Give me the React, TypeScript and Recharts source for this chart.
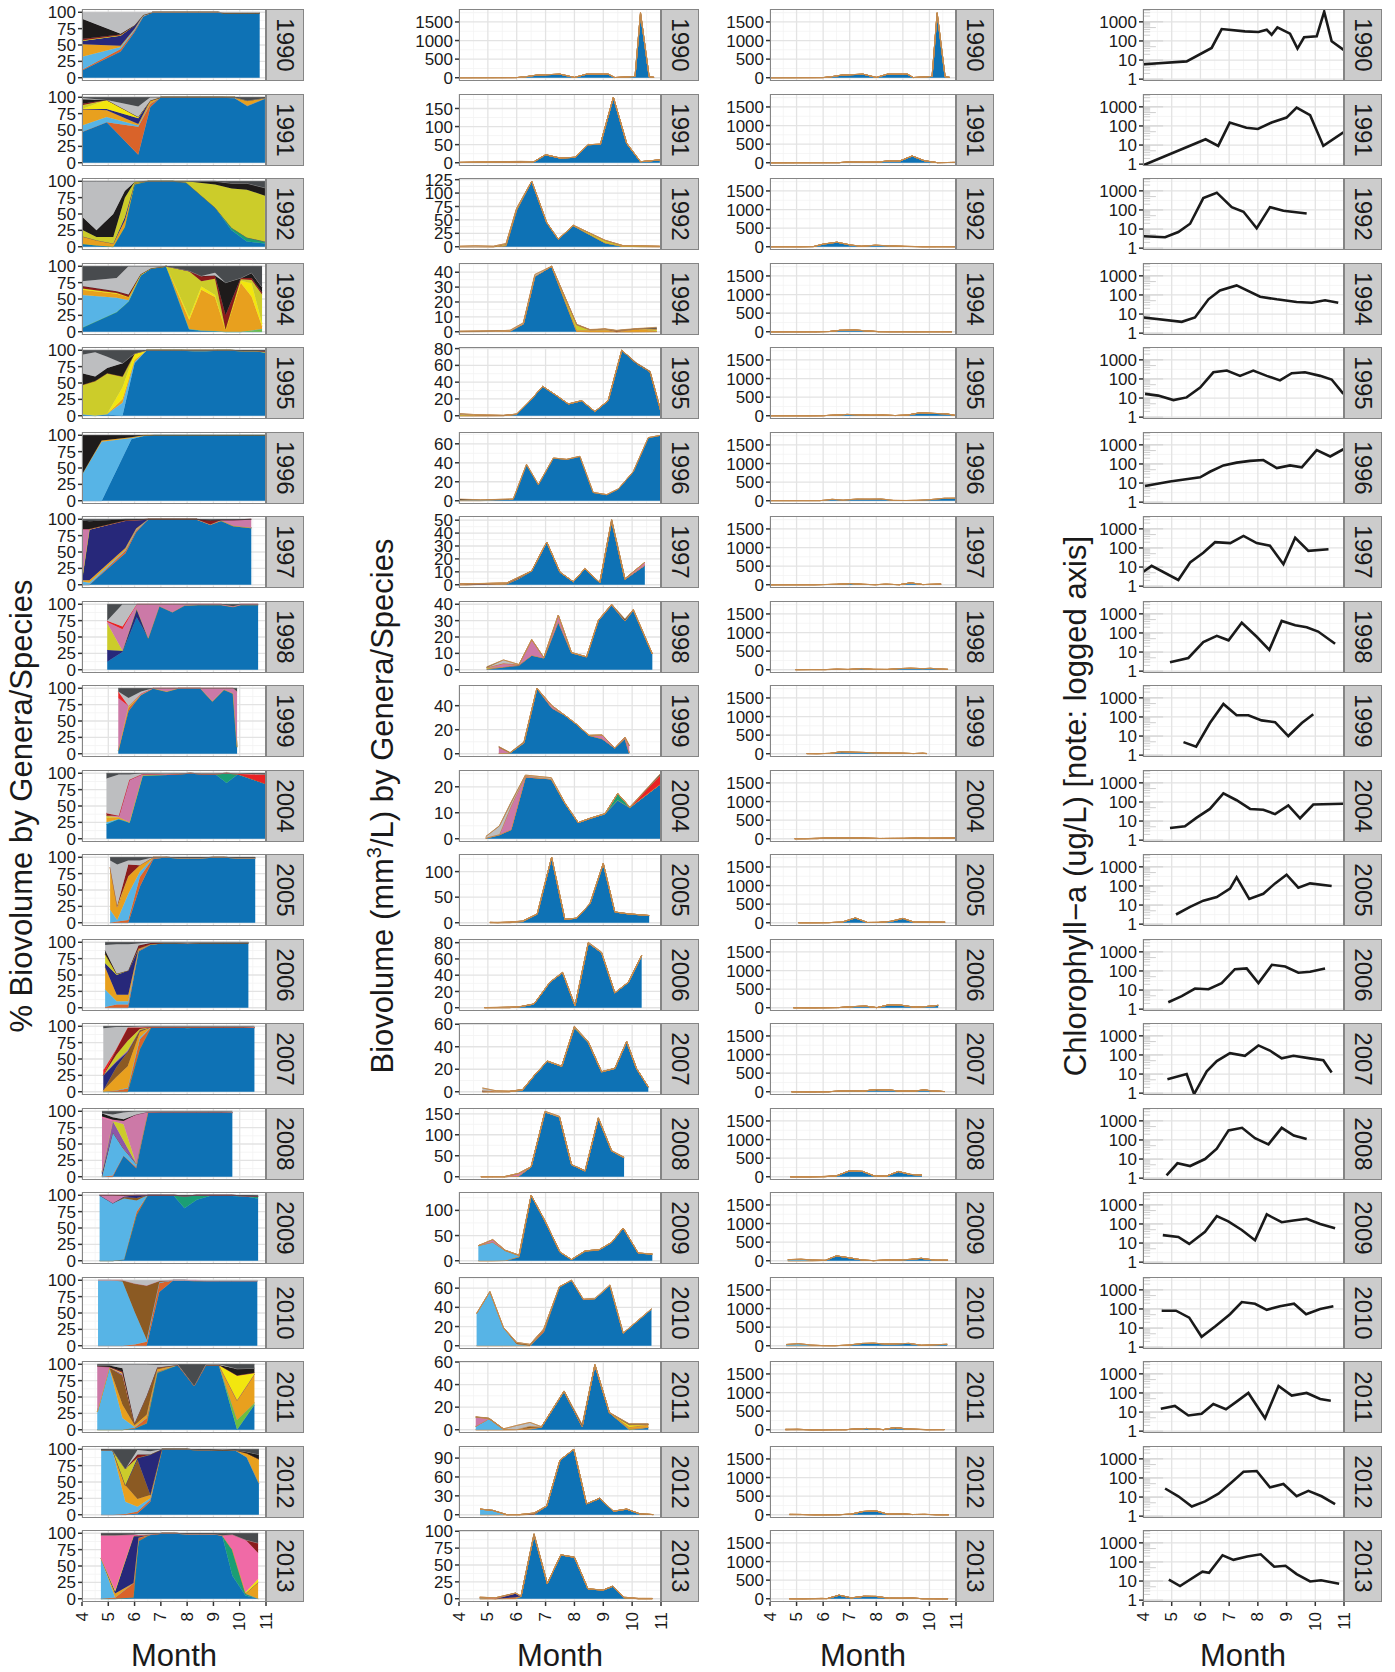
import React from 'react';
import { AreaChart, Area, LineChart, Line, XAxis, YAxis, CartesianGrid, ReferenceLine } from 'recharts';

const FONT = '"Liberation Sans", Arial, Helvetica, sans-serif';

// genera/species in stacking order (bottom to top)
const speciesKeys = ['A', 'O', 'G2', 'C', 'B', 'D', 'N', 'E', 'Q', 'J', 'K', 'L', 'P', 'F', 'R', 'G', 'H', 'I'];
const speciesColors = ['#0e72b5', '#1b9e74', '#6cbf3f', '#d9632a', '#57b4e6', '#e8a01e', '#8b5a23', '#27287a', '#8e56a8', '#f2e60f', '#cccc2a', '#cc79a7', '#f06aa6', '#8b1c1c', '#ea2224', '#1e1b1b', '#bdbec0', '#484b4e'];

const years = ['1990', '1991', '1992', '1994', '1995', '1996', '1997', '1998', '1999', '2004', '2005', '2006', '2007', '2008', '2009', '2010', '2011', '2012', '2013'];

const bvTicks = [
  [0, 500, 1000, 1500], [0, 50, 100, 150], [0, 25, 50, 75, 100, 125], [0, 10, 20, 30, 40], [0, 20, 40, 60, 80],
  [0, 20, 40, 60], [0, 10, 20, 30, 40, 50], [0, 10, 20, 30, 40], [0, 20, 40], [0, 10, 20], [0, 50, 100],
  [0, 20, 40, 60, 80], [0, 20, 40, 60], [0, 50, 100, 150], [0, 50, 100], [0, 20, 40, 60], [0, 20, 40, 60],
  [0, 30, 60, 90], [0, 25, 50, 75, 100],
];

// ---- 1990
const m1990 = [4.0, 5.47, 6.0, 6.33, 6.69, 7.5, 8.0, 8.42, 9.17, 9.4, 10.1, 10.29, 10.59, 10.76];
const bv1990 = [3, 5, 5, 30, 70, 96, 9, 96, 96, 5, 35, 1760, 26, 10];
const pct1990 = {
  A: [11, 40, 70, 93, 100, 100, 100, 100, 100, 99, 99, 99, 99, 99],
  C: [1, 4, 2, 1, 0, 0, 0, 0, 0, 0, 0, 0, 0, 0],
  B: [20, 3, 2, 1, 0, 0, 0, 0, 0, 0, 0, 0, 0, 0],
  D: [19, 2, 1, 1, 0, 0, 0, 0, 0, 0, 0, 0, 0, 0],
  E: [5, 15, 5, 0, 0, 0, 0, 0, 0, 0, 0, 0, 0, 0],
  J: [1, 1, 0, 0, 0, 0, 0, 0, 0, 0, 0, 0, 0, 0],
  F: [2, 1, 0, 0, 0, 0, 0, 0, 0, 0, 0, 0, 0, 0],
  G: [31, 1, 0, 0, 0, 0, 0, 0, 0, 0, 0, 0, 0, 0],
  H: [10, 33, 20, 4, 0, 0, 0, 0, 0, 1, 1, 1, 1, 1],
};
const chlM1990 = [4.03, 5.52, 6.39, 6.74, 7.55, 8.02, 8.31, 8.48, 8.68, 9.12, 9.38, 9.61, 10.05, 10.31, 10.57, 11.0];
const chl1990 = [6, 8.5, 43, 420, 316, 293, 385, 212, 510, 240, 40, 155, 174, 3400, 96, 33];

// ---- 1991
const m1991 = [4.0, 4.94, 6.14, 6.6, 7.0, 7.5, 8.02, 8.48, 8.9, 9.35, 9.81, 10.29, 10.96];
const bv1991 = [1, 2, 4, 3, 22, 13, 15, 50, 51, 181, 54, 3, 8];
const pct1991 = {
  A: [47, 62, 12, 85, 100, 100, 100, 100, 100, 100, 99, 87, 98],
  C: [0, 0, 43, 5, 0, 0, 0, 0, 0, 0, 0, 0, 0],
  B: [10, 8, 2, 0, 0, 0, 0, 0, 0, 0, 0, 0, 0],
  D: [25, 10, 2, 5, 0, 0, 0, 0, 0, 0, 1, 8, 1],
  E: [0, 2, 9, 0, 0, 0, 0, 0, 0, 0, 0, 0, 0],
  J: [0, 14, 2, 0, 0, 0, 0, 0, 0, 0, 0, 0, 0],
  K: [6, 0, 0, 0, 0, 0, 0, 0, 0, 0, 0, 0, 0],
  F: [2, 0, 0, 0, 0, 0, 0, 0, 0, 0, 0, 0, 0],
  G: [7, 0, 0, 0, 0, 0, 0, 0, 0, 0, 0, 0, 0],
  H: [2, 0, 16, 5, 0, 0, 0, 0, 0, 0, 0, 0, 0],
  I: [1, 4, 14, 0, 0, 0, 0, 0, 0, 0, 0, 5, 1],
};
const chlM1991 = [4.03, 6.18, 6.62, 7.02, 7.6, 8.0, 8.48, 9.0, 9.35, 9.82, 10.28, 10.98];
const chl1991 = [0.9, 20, 9, 150, 80, 69, 150, 275, 920, 366, 9, 46];

// ---- 1992
const m1992 = [4.0, 4.55, 5.19, 5.63, 6.0, 6.52, 7.04, 7.44, 7.96, 9.06, 9.69, 10.27, 10.96];
const bv1992 = [1, 2, 1, 6, 72, 122, 45, 14, 40, 12, 2, 2, 1];
const pct1992 = {
  A: [4, 2, 0, 30, 95, 100, 100, 100, 98, 60, 25, 8, 5],
  O: [0, 0, 0, 0, 0, 0, 0, 0, 0, 0, 4, 6, 3],
  D: [12, 8, 5, 10, 2, 0, 0, 0, 0, 0, 0, 0, 0],
  E: [0, 0, 0, 5, 0, 0, 0, 0, 0, 0, 0, 0, 0],
  K: [10, 5, 10, 30, 2, 0, 0, 0, 2, 35, 60, 73, 70],
  G: [20, 10, 35, 10, 0, 0, 0, 0, 0, 5, 8, 10, 12],
  H: [54, 75, 50, 15, 1, 0, 0, 0, 0, 0, 0, 0, 0],
  I: [0, 0, 0, 0, 0, 0, 0, 0, 0, 0, 3, 3, 10],
};
const chlM1992 = [4.03, 4.77, 5.23, 5.64, 6.1, 6.57, 7.09, 7.5, 7.96, 8.42, 8.89, 9.7];
const chl1992 = [4.2, 3.7, 7, 19, 420, 800, 140, 80, 11, 140, 90, 65];

// ---- 1994
const m1994 = [4.0, 5.32, 5.77, 6.23, 6.63, 7.21, 8.08, 8.54, 9.06, 9.46, 10.04, 10.45, 10.85];
const bv1994 = [0.3, 0.6, 1, 6, 38.5, 44, 5, 1.5, 2, 1, 2, 2.5, 3];
const pct1994 = {
  A: [6, 30, 46, 86, 97, 100, 4, 2, 1, 0, 0, 0, 0],
  G2: [0, 0, 0, 0, 0, 0, 0, 0, 0, 0, 0, 2, 4],
  B: [50, 22, 2, 0, 0, 0, 0, 0, 0, 0, 0, 0, 0],
  D: [8, 6, 5, 1, 0, 0, 14, 62, 52, 3, 75, 52, 4],
  J: [2, 1, 0, 0, 0, 0, 4, 5, 3, 0, 3, 20, 4],
  K: [0, 0, 0, 0, 0, 0, 70, 8, 25, 0, 2, 5, 45],
  F: [4, 3, 4, 1, 0, 0, 1, 8, 5, 22, 2, 3, 3],
  G: [0, 0, 0, 0, 0, 0, 0, 0, 0, 50, 0, 8, 8],
  H: [7, 20, 43, 12, 3, 0, 0, 0, 4, 0, 0, 0, 0],
  I: [23, 18, 0, 0, 0, 0, 7, 15, 10, 25, 18, 10, 32],
};
const chlM1994 = [4.03, 5.35, 5.81, 6.28, 6.68, 7.26, 8.08, 8.66, 9.35, 9.88, 10.34, 10.8];
const chl1994 = [6.6, 3.9, 6.6, 59, 170, 316, 81, 59, 43, 39, 53, 39];

// ---- 1995
const m1995 = [4.0, 4.5, 4.96, 5.54, 6.0, 6.46, 6.9, 7.38, 7.79, 8.25, 8.71, 9.17, 9.64, 10.15, 10.62, 10.99];
const bv1995 = [2.6, 1.5, 1, 0.5, 2, 17.7, 35, 24, 14, 18, 5, 18, 78, 63, 53, 6];
const pct1995 = {
  A: [1, 0, 2, 0, 80, 100, 100, 100, 100, 99, 99, 100, 100, 99, 99, 97],
  B: [2, 1, 1, 20, 2, 0, 0, 0, 0, 0, 0, 0, 0, 0, 0, 0],
  D: [0, 0, 0, 5, 3, 0, 0, 0, 0, 0, 0, 0, 0, 0, 0, 0],
  J: [0, 0, 0, 18, 10, 0, 0, 0, 0, 1, 1, 0, 0, 0, 0, 0],
  K: [44, 52, 62, 17, 0, 0, 0, 0, 0, 0, 0, 0, 0, 0, 0, 0],
  F: [0, 0, 0, 0, 0, 0, 0, 0, 0, 0, 0, 0, 0, 0, 0, 2],
  G: [18, 7, 8, 20, 0, 0, 0, 0, 0, 0, 0, 0, 0, 0, 0, 0],
  H: [28, 37, 17, 0, 0, 0, 0, 0, 0, 0, 0, 0, 0, 0, 0, 0],
  I: [7, 3, 10, 20, 5, 0, 0, 0, 0, 0, 0, 0, 0, 1, 1, 1],
};
const chlM1995 = [4.07, 4.53, 5.06, 5.52, 5.99, 6.45, 6.92, 7.38, 7.84, 8.31, 8.77, 9.18, 9.64, 10.17, 10.57, 10.98];
const chl1995 = [16.6, 13.4, 7.8, 10.8, 35, 222, 275, 145, 275, 145, 84, 200, 222, 145, 93, 16.6];

// ---- 1996
const m1996 = [4.0, 4.75, 5.88, 6.34, 6.75, 7.27, 7.73, 8.19, 8.65, 9.12, 9.52, 10.04, 10.56, 10.99];
const bv1996 = [1.8, 1, 1.8, 38.5, 17, 45, 43.6, 46.8, 8.7, 6.4, 12.4, 30.7, 66.5, 69];
const pct1996 = {
  A: [0, 0, 94, 99, 100, 100, 100, 100, 100, 100, 100, 100, 100, 100],
  B: [40, 90, 2, 0, 0, 0, 0, 0, 0, 0, 0, 0, 0, 0],
  D: [0, 2, 1, 1, 0, 0, 0, 0, 0, 0, 0, 0, 0, 0],
  G: [60, 8, 3, 0, 0, 0, 0, 0, 0, 0, 0, 0, 0, 0],
};
const chlM1996 = [4.07, 4.94, 5.99, 6.33, 6.8, 7.26, 7.73, 8.19, 8.66, 9.12, 9.53, 10.05, 10.52, 10.98];
const chl1996 = [7, 12, 20, 39, 84, 117, 145, 160, 61, 84, 67, 525, 246, 590];

// ---- 1997
const m1997 = [4.0, 4.28, 5.65, 6.06, 6.52, 7.04, 7.5, 7.96, 8.36, 8.88, 9.29, 9.75, 10.44];
const bv1997 = [0.7, 0.8, 1.3, 5.7, 10.7, 33, 9.7, 2.3, 12.4, 1.7, 50.7, 4.7, 17.4];
const pct1997 = {
  A: [0, 0, 48, 80, 100, 100, 100, 100, 100, 92, 98, 90, 87],
  C: [0, 0, 4, 3, 0, 0, 0, 0, 0, 0, 0, 0, 0],
  B: [5, 3, 1, 1, 0, 0, 0, 0, 0, 0, 0, 0, 0],
  D: [2, 4, 3, 2, 0, 0, 0, 0, 0, 0, 0, 0, 0],
  E: [0, 77, 42, 13, 0, 0, 0, 0, 0, 0, 0, 0, 0],
  J: [2, 1, 0, 0, 0, 0, 0, 0, 0, 0, 0, 0, 0],
  L: [76, 0, 0, 0, 0, 0, 0, 0, 0, 0, 1, 9, 13],
  F: [0, 0, 0, 0, 0, 0, 0, 0, 0, 6, 0, 0, 0],
  G: [13, 12, 2, 1, 0, 0, 0, 0, 0, 0, 0, 0, 0],
  I: [2, 3, 0, 0, 0, 0, 0, 0, 0, 2, 1, 1, 0],
};
const chlM1997 = [4.0, 4.3, 5.23, 5.64, 6.1, 6.51, 7.04, 7.5, 7.96, 8.42, 8.89, 9.3, 9.76, 10.46];
const chl1997 = [5.5, 11.5, 2.1, 17.5, 56, 200, 180, 425, 180, 132, 14, 340, 70, 86];

// ---- 1998
const m1998 = [4.96, 5.54, 6.08, 6.52, 6.94, 7.44, 7.9, 8.42, 8.83, 9.29, 9.75, 10.04, 10.7];
const bv1998 = [1.8, 6, 3.2, 18.4, 7.4, 33.4, 10.5, 7.9, 30.3, 40, 31, 36.8, 9.7];
const pct1998 = {
  A: [12, 27, 80, 48, 97, 88, 98, 99, 99, 99, 96, 99, 99],
  E: [18, 2, 13, 0, 0, 0, 0, 0, 0, 0, 0, 0, 0],
  K: [41, 0, 0, 0, 0, 0, 0, 0, 0, 0, 0, 0, 0],
  L: [2, 33, 7, 52, 3, 12, 2, 1, 1, 1, 1, 1, 1],
  R: [2, 4, 0, 0, 0, 0, 0, 0, 0, 0, 0, 0, 0],
  H: [0, 34, 0, 0, 0, 0, 0, 0, 0, 0, 0, 0, 0],
  I: [25, 0, 0, 0, 0, 0, 0, 0, 0, 0, 3, 0, 0],
};
const chlM1998 = [4.94, 5.58, 6.1, 6.57, 6.98, 7.44, 7.96, 8.4, 8.83, 9.3, 9.7, 10.1, 10.69];
const chl1998 = [2.9, 4.9, 33, 70, 41, 340, 63, 13, 425, 250, 200, 118, 27];

// ---- 1999
const m1999 = [5.38, 5.77, 6.25, 6.7, 7.22, 7.67, 8.08, 8.5, 8.96, 9.4, 9.75, 9.9];
const bv1999 = [6, 1, 10, 54.5, 40, 32, 24.4, 15.3, 15.6, 4.7, 13.8, 7];
const pct1999 = {
  A: [5, 65, 90, 100, 95, 100, 100, 100, 80, 98, 92, 10],
  C: [0, 5, 0, 0, 0, 0, 0, 0, 0, 0, 0, 0],
  K: [0, 3, 0, 0, 0, 0, 0, 0, 0, 0, 0, 0],
  L: [80, 0, 2, 0, 5, 0, 0, 0, 20, 2, 8, 85],
  R: [10, 0, 0, 0, 0, 0, 0, 0, 0, 0, 0, 0],
  H: [0, 12, 3, 0, 0, 0, 0, 0, 0, 0, 0, 0],
  I: [5, 15, 5, 0, 0, 0, 0, 0, 0, 0, 0, 5],
};
const chlM1999 = [5.41, 5.85, 6.33, 6.8, 7.26, 7.67, 8.13, 8.6, 9.06, 9.53, 9.93];
const chl1999 = [4.8, 2.8, 48, 480, 123, 123, 66, 53, 10, 48, 137];

// ---- 2004
const m2004 = [4.93, 5.4, 5.8, 6.3, 7.2, 7.67, 8.13, 8.54, 9.06, 9.5, 9.92, 10.99];
const bv2004 = [0.9, 5, 14, 24.5, 23.5, 13.8, 6.2, 7.9, 9.7, 17.4, 12.2, 25.2];
const pct2004 = {
  A: [22, 30, 25, 97, 98, 99, 100, 99, 99, 85, 98, 84],
  O: [0, 0, 0, 0, 0, 0, 0, 0, 0, 15, 1, 0],
  B: [3, 0, 0, 0, 0, 0, 0, 0, 0, 0, 0, 0],
  D: [7, 3, 0, 0, 0, 0, 0, 0, 0, 0, 0, 0],
  K: [3, 0, 0, 0, 0, 0, 0, 0, 0, 0, 0, 0],
  L: [0, 2, 65, 2, 0, 0, 0, 0, 0, 0, 0, 0],
  F: [4, 0, 0, 0, 0, 0, 0, 0, 0, 0, 0, 0],
  R: [0, 0, 0, 0, 0, 0, 0, 0, 0, 0, 0, 14],
  H: [53, 63, 8, 1, 2, 1, 0, 1, 1, 0, 1, 0],
  I: [8, 2, 2, 0, 0, 0, 0, 0, 0, 0, 0, 2],
};
const chlM2004 = [4.94, 5.46, 5.87, 6.33, 6.8, 7.26, 7.73, 8.19, 8.6, 9.06, 9.47, 9.93, 10.98];
const chl2004 = [4.3, 5.3, 15, 43, 284, 123, 43, 39, 23, 66, 14, 73, 81];

// ---- 2005
const m2005 = [5.07, 5.34, 5.76, 6.2, 6.71, 7.21, 7.67, 8.08, 8.54, 9.0, 9.4, 9.87, 10.59];
const bv2005 = [0.8, 0.8, 1.5, 3.5, 17, 128, 6.7, 9, 37.5, 116, 21, 17.5, 14.2];
const pct2005 = {
  A: [0, 0, 0, 55, 97, 100, 99, 99, 99, 100, 100, 99, 99],
  C: [0, 2, 4, 15, 2, 0, 0, 0, 0, 0, 0, 0, 0],
  B: [20, 2, 40, 8, 0, 0, 0, 0, 0, 0, 0, 0, 0],
  D: [63, 20, 27, 10, 1, 0, 0, 0, 0, 0, 0, 0, 0],
  Q: [2, 0, 0, 0, 0, 0, 0, 0, 0, 0, 0, 0, 0],
  J: [0, 2, 0, 0, 0, 0, 0, 0, 0, 0, 0, 0, 0],
  F: [0, 0, 18, 0, 0, 0, 0, 0, 0, 0, 0, 0, 0],
  H: [10, 63, 6, 7, 0, 0, 0, 0, 0, 0, 0, 0, 0],
  I: [5, 11, 5, 5, 0, 0, 1, 1, 1, 0, 0, 1, 1],
};
const chlM2005 = [5.15, 5.64, 6.1, 6.57, 7.03, 7.26, 7.7, 8.19, 8.6, 9.0, 9.41, 9.82, 10.57];
const chl2005 = [3.2, 8, 17, 26, 73, 285, 21, 39, 136, 390, 81, 136, 100];

// ---- 2006
const m2006 = [4.88, 5.32, 5.76, 6.15, 6.6, 7.15, 7.59, 8.02, 8.48, 8.94, 9.4, 9.87, 10.33];
const bv2006 = [0.2, 0.5, 1, 1.6, 4.7, 31.6, 43.7, 2.6, 80.5, 68.4, 18.4, 31.6, 64.7];
const pct2006 = {
  A: [0, 0, 0, 86, 96, 99, 99, 98, 99, 99, 99, 99, 99],
  C: [1, 5, 5, 2, 1, 0, 0, 0, 0, 0, 0, 0, 0],
  B: [27, 5, 5, 0, 0, 0, 0, 0, 0, 0, 0, 0, 0],
  D: [34, 10, 10, 2, 0, 0, 0, 0, 0, 0, 0, 0, 0],
  E: [6, 30, 37, 0, 0, 0, 0, 0, 0, 0, 0, 0, 0],
  K: [14, 2, 0, 0, 0, 0, 0, 0, 0, 0, 0, 0, 0],
  F: [0, 0, 0, 5, 2, 0, 0, 0, 0, 0, 0, 0, 0],
  G: [6, 0, 0, 0, 0, 0, 0, 0, 0, 0, 0, 0, 0],
  H: [8, 45, 40, 3, 1, 1, 1, 2, 1, 1, 1, 1, 1],
  I: [4, 3, 3, 2, 0, 0, 0, 0, 0, 0, 0, 0, 0],
};
const chlM2006 = [4.88, 5.35, 5.81, 6.28, 6.74, 7.2, 7.61, 8.02, 8.49, 8.95, 9.41, 9.82, 10.34];
const chl2006 = [2.3, 4.8, 12, 11, 23, 123, 135, 23, 210, 170, 81, 90, 135];

// ---- 2007
const m2007 = [4.81, 5.3, 5.74, 6.2, 6.63, 7.06, 7.56, 8.0, 8.48, 8.94, 9.4, 9.81, 10.15, 10.56];
const bv2007 = [3.4, 0.8, 0.4, 1.9, 15.2, 27.4, 22.8, 58.2, 44.5, 17.9, 20.9, 44.9, 20.9, 4.2];
const pct2007 = {
  A: [0, 0, 0, 65, 98, 99, 99, 97, 98, 99, 99, 99, 99, 98],
  O: [0, 0, 0, 0, 0, 0, 0, 2, 1, 0, 0, 0, 0, 0],
  C: [0, 2, 5, 15, 1, 0, 0, 0, 0, 0, 0, 0, 0, 0],
  B: [0, 0, 1, 3, 0, 0, 0, 0, 0, 0, 0, 0, 0, 0],
  D: [2, 20, 33, 8, 0, 0, 0, 0, 0, 0, 0, 0, 0, 0],
  N: [0, 15, 22, 3, 0, 0, 0, 0, 0, 0, 0, 0, 0, 0],
  E: [23, 8, 0, 0, 0, 0, 0, 0, 0, 0, 0, 0, 0, 0],
  Q: [0, 1, 2, 0, 0, 0, 0, 0, 0, 0, 0, 0, 0, 0],
  K: [0, 10, 15, 2, 0, 0, 0, 0, 0, 0, 0, 0, 0, 0],
  F: [0, 8, 20, 2, 0, 0, 0, 0, 0, 0, 0, 0, 0, 0],
  R: [8, 1, 0, 0, 0, 0, 0, 0, 0, 0, 0, 0, 0, 0],
  H: [64, 34, 1, 2, 1, 1, 1, 1, 1, 1, 1, 1, 1, 2],
  I: [3, 1, 1, 0, 0, 0, 0, 0, 0, 0, 0, 0, 0, 0],
};
const chlM2007 = [4.85, 5.52, 5.78, 6.22, 6.57, 7.03, 7.55, 8.02, 8.42, 8.83, 9.24, 9.82, 10.28, 10.57];
const chl2007 = [5.3, 10, 0.9, 14, 48, 123, 90, 316, 170, 66, 90, 66, 53, 12];

// ---- 2008
const m2008 = [4.76, 5.17, 5.58, 6.06, 6.5, 6.98, 7.48, 7.9, 8.37, 8.83, 9.29, 9.72];
const bv2008 = [0.3, 0.3, 0.3, 8, 24, 156, 144, 29, 14, 141, 62, 46.6];
const pct2008 = {
  A: [0, 0, 32, 13, 98, 99, 99, 99, 99, 99, 99, 98],
  C: [0, 2, 0, 2, 0, 0, 0, 0, 0, 0, 0, 0],
  B: [0, 66, 10, 5, 0, 0, 0, 0, 0, 0, 0, 0],
  D: [0, 0, 1, 0, 0, 0, 0, 0, 0, 0, 0, 0],
  E: [5, 0, 0, 0, 0, 0, 0, 0, 0, 0, 0, 0],
  Q: [2, 17, 12, 0, 0, 0, 0, 0, 0, 0, 0, 0],
  K: [0, 0, 25, 0, 0, 0, 0, 0, 0, 0, 0, 0],
  L: [83, 0, 5, 75, 1, 0, 0, 0, 0, 0, 0, 0],
  P: [2, 2, 0, 0, 0, 0, 0, 0, 0, 0, 0, 0],
  G: [5, 4, 3, 0, 0, 0, 0, 0, 0, 0, 0, 0],
  H: [0, 4, 10, 5, 1, 1, 1, 1, 1, 1, 1, 2],
  I: [3, 5, 2, 0, 0, 0, 0, 0, 0, 0, 0, 0],
};
const chlM2008 = [4.82, 5.2, 5.64, 6.16, 6.57, 6.98, 7.45, 7.9, 8.37, 8.83, 9.25, 9.7];
const chl2008 = [1.4, 6, 4.3, 10, 35, 316, 430, 123, 59, 430, 170, 112];

// ---- 2009
const m2009 = [4.67, 5.17, 5.6, 6.08, 6.5, 6.98, 7.5, 7.9, 8.37, 8.86, 9.29, 9.69, 10.21, 10.7];
const bv2009 = [30, 42, 21, 11, 130, 79, 17, 2.5, 19.5, 22, 36.4, 65, 15.3, 13.6];
const pct2009 = {
  A: [0, 0, 2, 70, 100, 100, 99, 80, 93, 99, 99, 99, 98, 95],
  O: [0, 0, 0, 0, 0, 0, 1, 19, 7, 1, 1, 1, 1, 3],
  C: [0, 0, 0, 5, 0, 0, 0, 0, 0, 0, 0, 0, 0, 0],
  B: [100, 88, 93, 17, 0, 0, 0, 0, 0, 0, 0, 0, 0, 0],
  N: [0, 0, 2, 4, 0, 0, 0, 0, 0, 0, 0, 0, 0, 0],
  E: [0, 0, 1, 4, 0, 0, 0, 0, 0, 0, 0, 0, 0, 0],
  L: [0, 12, 1, 0, 0, 0, 0, 0, 0, 0, 0, 0, 0, 0],
  F: [0, 0, 1, 0, 0, 0, 0, 0, 0, 0, 0, 0, 0, 0],
  I: [0, 0, 0, 0, 0, 0, 0, 1, 0, 0, 0, 0, 1, 2],
};
const chlM2009 = [4.69, 5.23, 5.61, 6.16, 6.57, 6.97, 7.44, 7.9, 8.31, 8.83, 9.24, 9.7, 10.17, 10.69];
const chl2009 = [26, 21, 9, 39, 257, 137, 48, 14, 316, 123, 150, 187, 100, 59];

// ---- 2010
const m2010 = [4.61, 5.07, 5.54, 6.0, 6.46, 6.94, 7.48, 7.9, 8.31, 8.71, 9.23, 9.69, 10.67];
const bv2010 = [33.6, 56.4, 19, 3.5, 1.5, 17.7, 61.4, 68.2, 48.6, 49.5, 63.6, 13.2, 38.6];
const pct2010 = {
  A: [0, 0, 0, 0, 0, 82, 100, 100, 99, 99, 99, 99, 99],
  C: [0, 0, 0, 2, 6, 14, 0, 0, 0, 0, 0, 0, 0],
  B: [100, 100, 98, 50, 3, 1, 0, 0, 0, 0, 0, 0, 0],
  N: [0, 0, 2, 43, 83, 2, 0, 0, 0, 0, 0, 0, 0],
  L: [0, 0, 0, 0, 0, 0, 0, 0, 1, 0, 0, 0, 0],
  H: [0, 0, 0, 5, 8, 1, 0, 0, 0, 1, 1, 1, 1],
};
const chlM2010 = [4.65, 5.15, 5.61, 6.04, 6.51, 7.03, 7.44, 7.9, 8.31, 8.77, 9.26, 9.68, 10.17, 10.63];
const chl2010 = [81, 81, 35, 3.5, 12, 53, 230, 187, 90, 137, 187, 53, 100, 137];

// ---- 2011
const m2011 = [4.58, 5.04, 5.54, 6.0, 6.46, 6.86, 7.64, 8.27, 8.71, 9.21, 9.9, 10.56];
const bv2011 = [11.5, 10.3, 0.8, 3.8, 6.5, 2.7, 34.4, 4.6, 58, 15.3, 5.3, 5.3];
const pct2011 = {
  A: [0, 0, 0, 2, 10, 87, 99, 67, 99, 99, 0, 38],
  G2: [0, 0, 0, 0, 0, 0, 0, 0, 0, 0, 15, 3],
  C: [0, 0, 0, 1, 8, 2, 0, 0, 0, 0, 0, 0],
  B: [27, 95, 18, 1, 0, 0, 0, 0, 0, 0, 0, 0],
  D: [0, 0, 20, 3, 5, 3, 0, 0, 0, 0, 30, 44],
  N: [0, 0, 45, 3, 29, 3, 0, 0, 0, 0, 0, 0],
  Q: [0, 0, 2, 0, 0, 0, 0, 0, 0, 0, 0, 0],
  J: [0, 0, 2, 0, 0, 0, 0, 0, 0, 0, 38, 2],
  L: [70, 1, 0, 0, 0, 0, 0, 0, 0, 0, 0, 0],
  F: [0, 0, 2, 0, 0, 0, 0, 0, 0, 0, 0, 0],
  G: [1, 2, 5, 0, 0, 0, 0, 0, 0, 0, 10, 7],
  H: [0, 0, 6, 90, 48, 4, 1, 0, 1, 1, 0, 0],
  I: [2, 2, 0, 0, 0, 1, 0, 33, 0, 0, 7, 6],
};
const chlM2011 = [4.62, 5.11, 5.58, 6.04, 6.45, 6.89, 7.26, 7.67, 8.25, 8.72, 9.18, 9.7, 10.17, 10.54];
const chl2011 = [15, 21, 6.6, 8.1, 26, 14, 35, 100, 4.8, 230, 73, 100, 48, 39];

// ---- 2012
const m2012 = [4.73, 5.17, 5.65, 6.11, 6.6, 7.04, 7.5, 7.98, 8.42, 8.88, 9.35, 9.81, 10.27, 10.73];
const bv2012 = [9, 7, 0.3, 0.3, 2.8, 13.9, 86.8, 104, 17.4, 26.4, 5.6, 9, 1.4, 0.3];
const pct2012 = {
  A: [0, 0, 0, 2, 20, 100, 100, 100, 99, 99, 99, 99, 88, 48],
  C: [0, 0, 1, 3, 3, 0, 0, 0, 0, 0, 0, 0, 0, 0],
  B: [99, 97, 19, 7, 2, 0, 0, 0, 0, 0, 0, 0, 0, 0],
  D: [0, 1, 25, 12, 5, 0, 0, 0, 0, 0, 0, 0, 6, 37],
  N: [0, 0, 0, 60, 0, 0, 0, 0, 0, 0, 0, 0, 0, 0],
  E: [0, 0, 0, 3, 62, 0, 0, 0, 0, 0, 0, 0, 0, 0],
  K: [0, 0, 25, 0, 0, 0, 0, 0, 0, 0, 0, 0, 0, 0],
  F: [0, 0, 0, 5, 0, 0, 0, 0, 0, 0, 0, 0, 0, 0],
  G: [0, 0, 0, 0, 0, 0, 0, 0, 0, 0, 0, 0, 2, 7],
  H: [0, 0, 0, 7, 5, 0, 0, 0, 0, 0, 1, 0, 0, 0],
  I: [1, 2, 30, 1, 3, 0, 0, 0, 1, 1, 0, 1, 4, 8],
};
const chlM2012 = [4.77, 5.23, 5.7, 6.16, 6.63, 7.09, 7.5, 7.96, 8.42, 8.89, 9.35, 9.76, 10.22, 10.69];
const chl2012 = [28, 11, 3.2, 5.9, 15, 59, 210, 230, 32, 48, 11, 21, 11, 4.3];

// ---- 2013
const m2013 = [4.72, 5.26, 5.96, 6.15, 6.6, 7.06, 7.53, 8.0, 8.47, 9.0, 9.33, 9.72, 10.22, 10.7];
const bv2013 = [2.3, 1.4, 8.5, 3.8, 97, 22.5, 65, 62, 14.6, 13, 19, 2.3, 0.5, 0.5];
const pct2013 = {
  A: [0, 0, 2, 88, 98, 100, 100, 99, 99, 99, 97, 35, 5, 0],
  O: [0, 0, 0, 0, 0, 0, 0, 0, 0, 0, 0, 40, 3, 0],
  C: [0, 2, 22, 5, 0, 0, 0, 0, 0, 0, 0, 0, 0, 0],
  B: [62, 0, 0, 0, 0, 0, 0, 0, 0, 0, 0, 0, 0, 0],
  D: [0, 6, 0, 0, 0, 0, 0, 0, 0, 0, 0, 0, 0, 25],
  E: [0, 3, 72, 3, 0, 0, 0, 0, 0, 0, 0, 0, 0, 0],
  J: [0, 2, 0, 0, 0, 0, 0, 0, 0, 0, 0, 0, 2, 5],
  P: [35, 84, 2, 1, 0, 0, 0, 0, 0, 0, 0, 23, 80, 40],
  F: [0, 0, 0, 0, 0, 0, 0, 0, 0, 0, 0, 0, 0, 15],
  H: [0, 0, 0, 2, 1, 0, 0, 0, 0, 0, 0, 0, 0, 0],
  I: [3, 3, 2, 1, 1, 0, 0, 1, 1, 1, 3, 2, 10, 15],
};
const chlM2013 = [4.9, 5.29, 6.07, 6.3, 6.77, 7.15, 7.63, 8.1, 8.57, 8.96, 9.35, 9.82, 10.2, 10.83];
const chl2013 = [12, 5.5, 31, 27, 224, 129, 191, 251, 56, 63, 23, 9.5, 11, 7.2];

type Pct = Record<string, number[]>;
const yearSets: { m: number[]; bv: number[]; pct: Pct; chlM: number[]; chl: number[] }[] = [
  { m: m1990, bv: bv1990, pct: pct1990, chlM: chlM1990, chl: chl1990 },
  { m: m1991, bv: bv1991, pct: pct1991, chlM: chlM1991, chl: chl1991 },
  { m: m1992, bv: bv1992, pct: pct1992, chlM: chlM1992, chl: chl1992 },
  { m: m1994, bv: bv1994, pct: pct1994, chlM: chlM1994, chl: chl1994 },
  { m: m1995, bv: bv1995, pct: pct1995, chlM: chlM1995, chl: chl1995 },
  { m: m1996, bv: bv1996, pct: pct1996, chlM: chlM1996, chl: chl1996 },
  { m: m1997, bv: bv1997, pct: pct1997, chlM: chlM1997, chl: chl1997 },
  { m: m1998, bv: bv1998, pct: pct1998, chlM: chlM1998, chl: chl1998 },
  { m: m1999, bv: bv1999, pct: pct1999, chlM: chlM1999, chl: chl1999 },
  { m: m2004, bv: bv2004, pct: pct2004, chlM: chlM2004, chl: chl2004 },
  { m: m2005, bv: bv2005, pct: pct2005, chlM: chlM2005, chl: chl2005 },
  { m: m2006, bv: bv2006, pct: pct2006, chlM: chlM2006, chl: chl2006 },
  { m: m2007, bv: bv2007, pct: pct2007, chlM: chlM2007, chl: chl2007 },
  { m: m2008, bv: bv2008, pct: pct2008, chlM: chlM2008, chl: chl2008 },
  { m: m2009, bv: bv2009, pct: pct2009, chlM: chlM2009, chl: chl2009 },
  { m: m2010, bv: bv2010, pct: pct2010, chlM: chlM2010, chl: chl2010 },
  { m: m2011, bv: bv2011, pct: pct2011, chlM: chlM2011, chl: chl2011 },
  { m: m2012, bv: bv2012, pct: pct2012, chlM: chlM2012, chl: chl2012 },
  { m: m2013, bv: bv2013, pct: pct2013, chlM: chlM2013, chl: chl2013 },
];

// layout
const PH = 72;
const PAD = 10;
const YW = 70;
const XH = 44;
const RM = 14;
const STRIP = 38;
const colLeft = [82, 459, 770, 1143];
const colW = [184, 202, 186, 201];
const rowTop = (r: number) => 9 + 84.5 * r;

const monthTicks = [4, 5, 6, 7, 8, 9, 10, 11];
const monthMinor = [4.5, 5.5, 6.5, 7.5, 8.5, 9.5, 10.5];
const pctTicks = [0, 25, 50, 75, 100];
const fixedTicks = [0, 500, 1000, 1500];
const logTicks = [1, 10, 100, 1000];
const LOG_DOMAIN: [number, number] = [0.8, 4700];

function minorOf(ticks: number[], lo: number, hi: number) {
  const s = ticks[1] - ticks[0];
  const out: number[] = [];
  for (let v = ticks[0] - s / 2; v <= hi; v += s) if (v >= lo) out.push(v);
  return out;
}

function colorOf(k: string) {
  return speciesColors[speciesKeys.indexOf(k)];
}

function buildRows(i: number) {
  const { m, bv, pct } = yearSets[i];
  return m.map((mm, j) => {
    const row: Record<string, number> = { m: mm };
    Object.keys(pct).forEach((k) => {
      row[k] = pct[k][j];
      row['bv_' + k] = (pct[k][j] * bv[j]) / 100;
    });
    return row;
  });
}

function MonthTick(props: any) {
  const { x, y, payload } = props;
  return (
    <text x={x} y={y} transform={`rotate(-90 ${x} ${y})`} textAnchor="end" dominantBaseline="central"
      fontSize={17} fill="#1a1a1a" fontFamily={FONT}>
      {payload.value}
    </text>
  );
}

const tickStyle = { fontSize: 17, fill: '#1a1a1a', fontFamily: FONT };
const tickLineStyle = { stroke: '#333', strokeWidth: 1.5 };

function grids(yMinor: number[], yMajor: number[]) {
  return [
    <CartesianGrid key="g1" verticalValues={monthMinor} horizontalValues={yMinor} stroke="#f2f2f2" strokeWidth={0.8} />,
    <CartesianGrid key="g2" verticalValues={monthTicks} horizontalValues={yMajor} stroke="#e3e3e3" strokeWidth={1.3} />,
  ];
}

function xAxis(last: boolean) {
  return (
    <XAxis key="x" dataKey="m" type="number" domain={[4, 11]} ticks={monthTicks} allowDataOverflow hide={!last}
      height={XH} axisLine={false} tickLine={tickLineStyle} tickSize={4} tickMargin={6} interval={0} tick={<MonthTick />} />
  );
}

function yAxis(domain: [number, number], ticks: number[], log = false) {
  return (
    <YAxis key="y" width={YW} type="number" domain={domain} ticks={ticks} scale={log ? 'log' : 'auto'} allowDataOverflow
      interval={0} axisLine={false} tickLine={tickLineStyle} tickSize={4} tickMargin={2} tick={tickStyle} />
  );
}

function PanelChart({ col, row }: { col: number; row: number }) {
  const last = row === years.length - 1;
  const w = colW[col] + YW + RM;
  const h = PH + PAD + (last ? XH : PAD);
  const margin = { top: PAD, right: RM, left: 0, bottom: last ? 0 : PAD };
  const set = yearSets[row];
  const keys = speciesKeys.filter((k) => set.pct[k]);

  if (col === 3) {
    const data = set.chlM.map((mm, j) => ({ m: mm, chl: set.chl[j] }));
    const minor = logTicks.map((t) => t * Math.sqrt(10));
    const marks: number[] = [];
    [1, 10, 100, 1000].forEach((d) => [1, 2, 3, 4, 5, 6, 7, 8, 9].forEach((k) => { if (d * k <= LOG_DOMAIN[1]) marks.push(d * k); }));
    return (
      <LineChart width={w} height={h} data={data} margin={margin}>
        {grids(minor, logTicks)}
        {xAxis(last)}
        {yAxis(LOG_DOMAIN, logTicks, true)}
        {marks.map((v) => {
          const lead = v / Math.pow(10, Math.floor(Math.log10(v) + 1e-9));
          const len = Math.abs(lead - 1) < 1e-6 ? 0.7 : Math.abs(lead - 5) < 1e-6 ? 0.45 : 0.25;
          return <ReferenceLine key={'lt' + v} segment={[{ x: 4, y: v }, { x: 4 + len, y: v }]} stroke="#cfcfcf" strokeWidth={1} />;
        })}
        <Line type="linear" dataKey="chl" stroke="#1a1a1a" strokeWidth={2.6} dot={false} activeDot={false} isAnimationActive={false} />
      </LineChart>
    );
  }

  const rows = buildRows(row);
  let domain: [number, number];
  let ticks: number[];
  if (col === 0) {
    domain = [-5, 105];
    ticks = pctTicks;
  } else if (col === 1) {
    const M = Math.max(...set.bv);
    domain = [-0.05 * M, 1.05 * M];
    ticks = bvTicks[row];
  } else {
    domain = [-88, 1848];
    ticks = fixedTicks;
  }
  const minor = minorOf(ticks, domain[0], domain[1]);
  return (
    <AreaChart width={w} height={h} data={rows} margin={margin}>
      {grids(minor, ticks)}
      {xAxis(last)}
      {yAxis(domain, ticks)}
      {keys.map((k) => (
        <Area key={k} type="linear" dataKey={col === 0 ? k : 'bv_' + k} stackId="s" fill={colorOf(k)} fillOpacity={1}
          stroke={col === 0 ? colorOf(k) : '#c38a4e'} strokeWidth={col === 0 ? 0.6 : 0.8}
          dot={false} activeDot={false} isAnimationActive={false} />
      ))}
    </AreaChart>
  );
}

function Panel({ col, row }: { col: number; row: number }) {
  const left = colLeft[col];
  const top = rowTop(row);
  const w = colW[col];
  return (
    <>
      <div style={{ position: 'absolute', left: left - YW, top: top - PAD }}>
        <PanelChart col={col} row={row} />
      </div>
      <div style={{ position: 'absolute', left, top, width: w, height: PH, border: '1.5px solid #858585', boxSizing: 'border-box', pointerEvents: 'none' }} />
      <div style={{ position: 'absolute', left: left + w, top, width: STRIP, height: PH, background: '#cccccc', border: '1.5px solid #858585', boxSizing: 'border-box', display: 'flex', alignItems: 'center', justifyContent: 'center' }}>
        <span style={{ transform: 'rotate(90deg)', fontSize: 24, color: '#1a1a1a', whiteSpace: 'nowrap', lineHeight: 1 }}>{years[row]}</span>
      </div>
    </>
  );
}

const titleStyle: React.CSSProperties = { position: 'absolute', fontSize: 31, color: '#1a1a1a', whiteSpace: 'nowrap', lineHeight: 1 };

export default function App() {
  return (
    <div style={{ position: 'absolute', left: 0, top: 0, width: 1395, height: 1672, background: '#fff', fontFamily: FONT, overflow: 'hidden' }}>
      {years.map((y, r) => [0, 1, 2, 3].map((c) => <Panel key={y + '-' + c} col={c} row={r} />))}
      <div style={{ ...titleStyle, left: 21, top: 806, transform: 'translate(-50%, -50%) rotate(-90deg)' }}>% Biovolume by Genera/Species</div>
      <div style={{ ...titleStyle, left: 382, top: 806, transform: 'translate(-50%, -50%) rotate(-90deg)' }}>
        Biovolume (mm<sup style={{ fontSize: 20, lineHeight: 0 }}>3</sup>/L) by Genera/Species
      </div>
      <div style={{ ...titleStyle, left: 1075, top: 806, transform: 'translate(-50%, -50%) rotate(-90deg)' }}>Chlorophyll−a (ug/L) [note: logged axis]</div>
      {[174, 560, 863, 1243].map((cx, i) => (
        <div key={'mt' + i} style={{ ...titleStyle, left: cx, top: 1655, transform: 'translate(-50%, -50%)' }}>Month</div>
      ))}
    </div>
  );
}
